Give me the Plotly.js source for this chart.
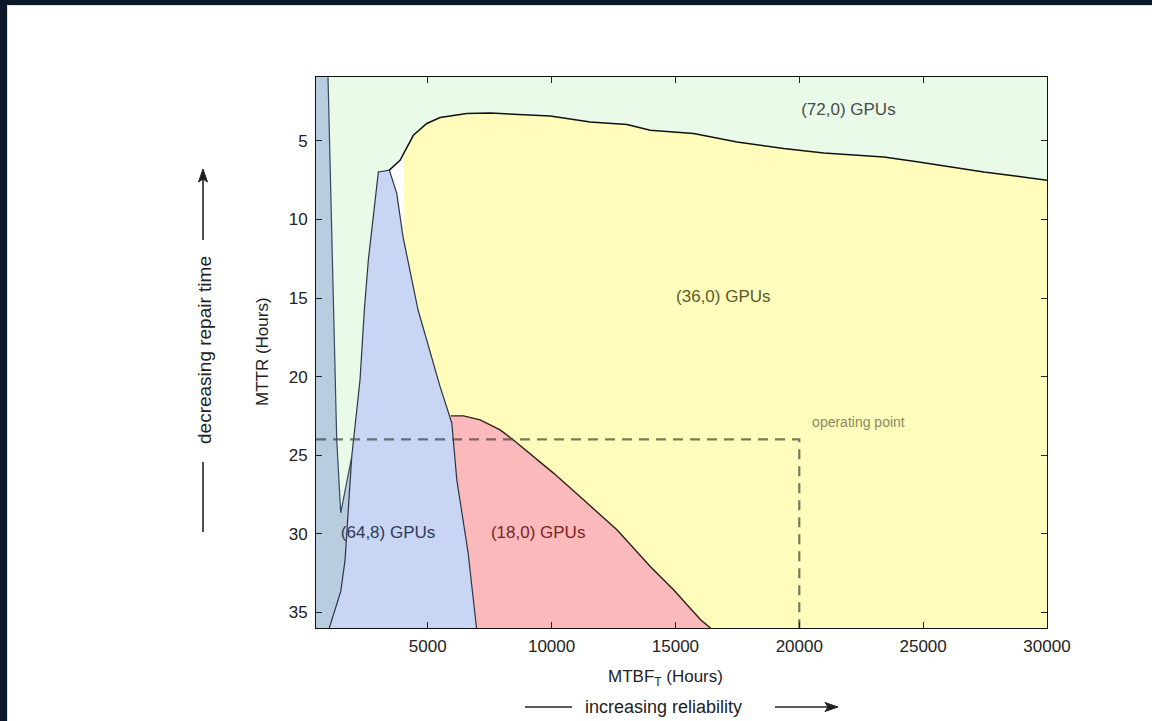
<!DOCTYPE html>
<html>
<head>
<meta charset="utf-8">
<script src="https://cdn.plot.ly/plotly-3.0.1.min.js"></script>
<style>
  html, body { margin: 0; padding: 0; background: #0c1729; width: 1152px; height: 721px; overflow: hidden; }
  #frame { position: absolute; left: 7px; top: 5px; width: 1145px; height: 716px; background: #cde6f5; }
  #chart { position: absolute; left: 1px; top: 1px; width: 1144px; height: 715px; }
</style>
</head>
<body>
<div id="frame"><div id="chart"></div></div>
<script>
// ---- tick labels ----
const xTickVals = [5000, 10000, 15000, 20000, 25000, 30000];
const xTickText = ['5000', '10000', '15000', '20000', '25000', '30000'];
const yTickVals = [5, 10, 15, 20, 25, 30, 35];
const yTickText = ['5', '10', '15', '20', '25', '30', '35'];

// ---- region boundaries (MTBF_T hours, MTTR hours) ----
// boundary between (72,0) and (36,0) GPUs
const topX = [3451, 3884, 4421, 4962, 5500, 6174, 6578, 7520, 8598, 9944, 11560, 13042, 13984, 15733, 17487, 19369, 20985, 23409, 24757, 26104, 27449, 28798, 30000];
const topY = [6.86, 6.23, 4.64, 3.89, 3.51, 3.37, 3.26, 3.22, 3.30, 3.42, 3.79, 3.96, 4.32, 4.53, 5.06, 5.48, 5.76, 6.02, 6.33, 6.65, 6.97, 7.24, 7.50];

// (64,8) GPUs region: left edge (bottom -> apex) and right edge (apex -> bottom)
const blueLeftX = [1027, 1488, 1662, 1932, 2268, 2441, 2603, 3007];
const blueLeftY = [36.0, 33.67, 31.7, 25.1, 20.2, 15.76, 12.58, 6.97];
const blueRightX = [3451, 3750, 4005, 4611, 5500, 5972, 6174, 6631, 6954, 6970];
const blueRightY = [6.86, 8.34, 11.12, 15.76, 20.64, 22.95, 26.57, 31.21, 35.79, 36.0];

// (18,0) GPUs region: top edge
const redTopX = [5930, 6441, 7116, 7924, 8461, 9269, 10077, 11289, 12638, 13984, 14925, 16014, 16418];
const redTopY = [22.5, 22.5, 22.75, 23.39, 24.03, 25.09, 26.14, 27.84, 29.75, 32.08, 33.57, 35.47, 36.0];

// leftmost region boundary
const steelX = [490, 975, 1326, 1488, 1932, 1662, 1488, 1027, 490];
const steelY = [0.93, 0.93, 24.0, 28.67, 25.1, 31.7, 33.67, 36.0, 36.0];
const steelLineX = [975, 1326, 1488, 1932];
const steelLineY = [0.93, 24.0, 28.67, 25.1];

// uncovered gap between (64,8) and (36,0)
const gapX = [3451, 3884, 4045, 4045, 4005, 3750];
const gapY = [6.86, 6.23, 5.75, 11.12, 11.12, 8.34];

// operating point
const opX = [490, 20000, 20000];
const opY = [24, 24, 36];

// region labels
const labelText = ['(72,0) GPUs', '(36,0) GPUs', '(64,8) GPUs', '(18,0) GPUs', 'operating point'];
const labelX = [21983, 16933, 3399, 9459, 22387];
const labelY = [3.05, 15.0, 30.0, 30.0, 23.0];
const labelColor = ['#4a4a4a', '#5c5a2c', '#2e3a58', '#7a2424', '#8c8a5c'];
const labelSize = [17, 17, 17, 17, 14];

// ---- build polygons from the arrays ----
const yellowX = [4045].concat(topX.slice(2)).concat([30000, 6970]).concat(blueRightX.slice().reverse().slice(1, 8)).concat([4045]);
const yellowY = [5.75].concat(topY.slice(2)).concat([36.0, 36.0]).concat(blueRightY.slice().reverse().slice(1, 8)).concat([11.12]);

const redX = redTopX.concat(blueRightX.slice(5).reverse());
const redY = redTopY.concat(blueRightY.slice(5).reverse());

const blueX = blueLeftX.concat(blueRightX);
const blueY = blueLeftY.concat(blueRightY);

const FONT = 'Liberation Sans, Arial, sans-serif';

const traces = [
  {x: steelX, y: steelY, fill: 'toself', fillcolor: '#b9cde1', line: {width: 0}, mode: 'lines', hoverinfo: 'skip'},
  {x: gapX, y: gapY, fill: 'toself', fillcolor: '#ffffff', line: {width: 0}, mode: 'lines', hoverinfo: 'skip'},
  {x: yellowX, y: yellowY, fill: 'toself', fillcolor: '#fffcbc', line: {width: 0}, mode: 'lines', hoverinfo: 'skip'},
  {x: redX, y: redY, fill: 'toself', fillcolor: '#fbb9bb', line: {width: 0}, mode: 'lines', hoverinfo: 'skip'},
  {x: blueX, y: blueY, fill: 'toself', fillcolor: '#c8d5f3', line: {color: '#2c3444', width: 1.2}, mode: 'lines', hoverinfo: 'skip'},
  {x: steelLineX, y: steelLineY, mode: 'lines', line: {color: '#34485a', width: 1.2}, hoverinfo: 'skip'},
  {x: topX, y: topY, mode: 'lines', line: {color: '#111111', width: 1.5}, hoverinfo: 'skip'},
  {x: redTopX, y: redTopY, mode: 'lines', line: {color: '#2e2016', width: 1.4}, hoverinfo: 'skip'},
  {x: opX, y: opY, mode: 'lines', line: {color: 'rgba(70,70,55,0.72)', width: 2.2, dash: '10px,7px'}, hoverinfo: 'skip'},
  {x: labelX, y: labelY, mode: 'text', text: labelText,
   textfont: {family: FONT, size: labelSize, color: labelColor}, hoverinfo: 'skip'}
];

const W = 731, H = 551; // plot area in px
const px = v => (v - 316) / W;   // page x -> paper
const py = v => (628 - v) / H;   // page y -> paper

const layout = {
  width: 1144, height: 715,
  margin: {l: 308, r: 105, t: 71, b: 93},
  paper_bgcolor: '#ffffff',
  plot_bgcolor: '#e9fae8',
  showlegend: false,
  font: {family: FONT, size: 17, color: '#222'},
  xaxis: {
    range: [490, 30000], tickvals: xTickVals, ticktext: xTickText,
    ticks: 'inside', ticklen: 6, tickcolor: '#222', showline: true, linecolor: '#111', linewidth: 1,
    mirror: 'ticks', showgrid: false, zeroline: false, ticklabelstandoff: 3,
    tickfont: {family: FONT, size: 17, color: '#222'}
  },
  yaxis: {
    range: [36.0, 0.93], tickvals: yTickVals, ticktext: yTickText,
    ticks: 'inside', ticklen: 6, tickcolor: '#222', showline: true, linecolor: '#111', linewidth: 1,
    mirror: 'ticks', showgrid: false, zeroline: false, ticklabelstandoff: 4,
    tickfont: {family: FONT, size: 17, color: '#222'}
  },
  shapes: [
    {type: 'line', xref: 'paper', yref: 'paper', x0: px(203), x1: px(203), y0: py(462), y1: py(532), line: {color: '#222', width: 1.6}},
    {type: 'line', xref: 'paper', yref: 'paper', x0: px(203), x1: px(203), y0: py(178), y1: py(240), line: {color: '#222', width: 1.6}},
    {type: 'path', xref: 'paper', yref: 'paper', fillcolor: '#222', line: {color: '#222', width: 1},
     path: `M ${px(203)},${py(169)} L ${px(198.5)},${py(182)} L ${px(203)},${py(179)} L ${px(207.5)},${py(182)} Z`},
    {type: 'line', xref: 'paper', yref: 'paper', x0: px(525), x1: px(572), y0: py(707), y1: py(707), line: {color: '#222', width: 1.6}},
    {type: 'line', xref: 'paper', yref: 'paper', x0: px(775), x1: px(828), y0: py(707), y1: py(707), line: {color: '#222', width: 1.6}},
    {type: 'path', xref: 'paper', yref: 'paper', fillcolor: '#222', line: {color: '#222', width: 1},
     path: `M ${px(838)},${py(707)} L ${px(825)},${py(702.5)} L ${px(828)},${py(707)} L ${px(825)},${py(711.5)} Z`}
  ],
  annotations: [
    {xref: 'paper', yref: 'paper', x: px(262), y: py(352), xanchor: 'center', yanchor: 'middle',
     text: 'MTTR (Hours)', textangle: -90, showarrow: false,
     font: {family: FONT, size: 17, color: '#222'}},
    {xref: 'paper', yref: 'paper', x: px(665), y: py(678), xanchor: 'center', yanchor: 'middle',
     text: 'MTBF<sub>T</sub> (Hours)', showarrow: false,
     font: {family: FONT, size: 17, color: '#222'}},
    {xref: 'paper', yref: 'paper', x: px(204), y: py(350), xanchor: 'center', yanchor: 'middle',
     text: 'decreasing repair time', textangle: -90, showarrow: false,
     font: {family: FONT, size: 19, color: '#222'}},
    {xref: 'paper', yref: 'paper', x: px(663), y: py(707), xanchor: 'center', yanchor: 'middle',
     text: 'increasing reliability', showarrow: false,
     font: {family: FONT, size: 18, color: '#222'}}
  ]
};

Plotly.newPlot('chart', traces, layout, {displayModeBar: false, staticPlot: true});
</script>
</body>
</html>
